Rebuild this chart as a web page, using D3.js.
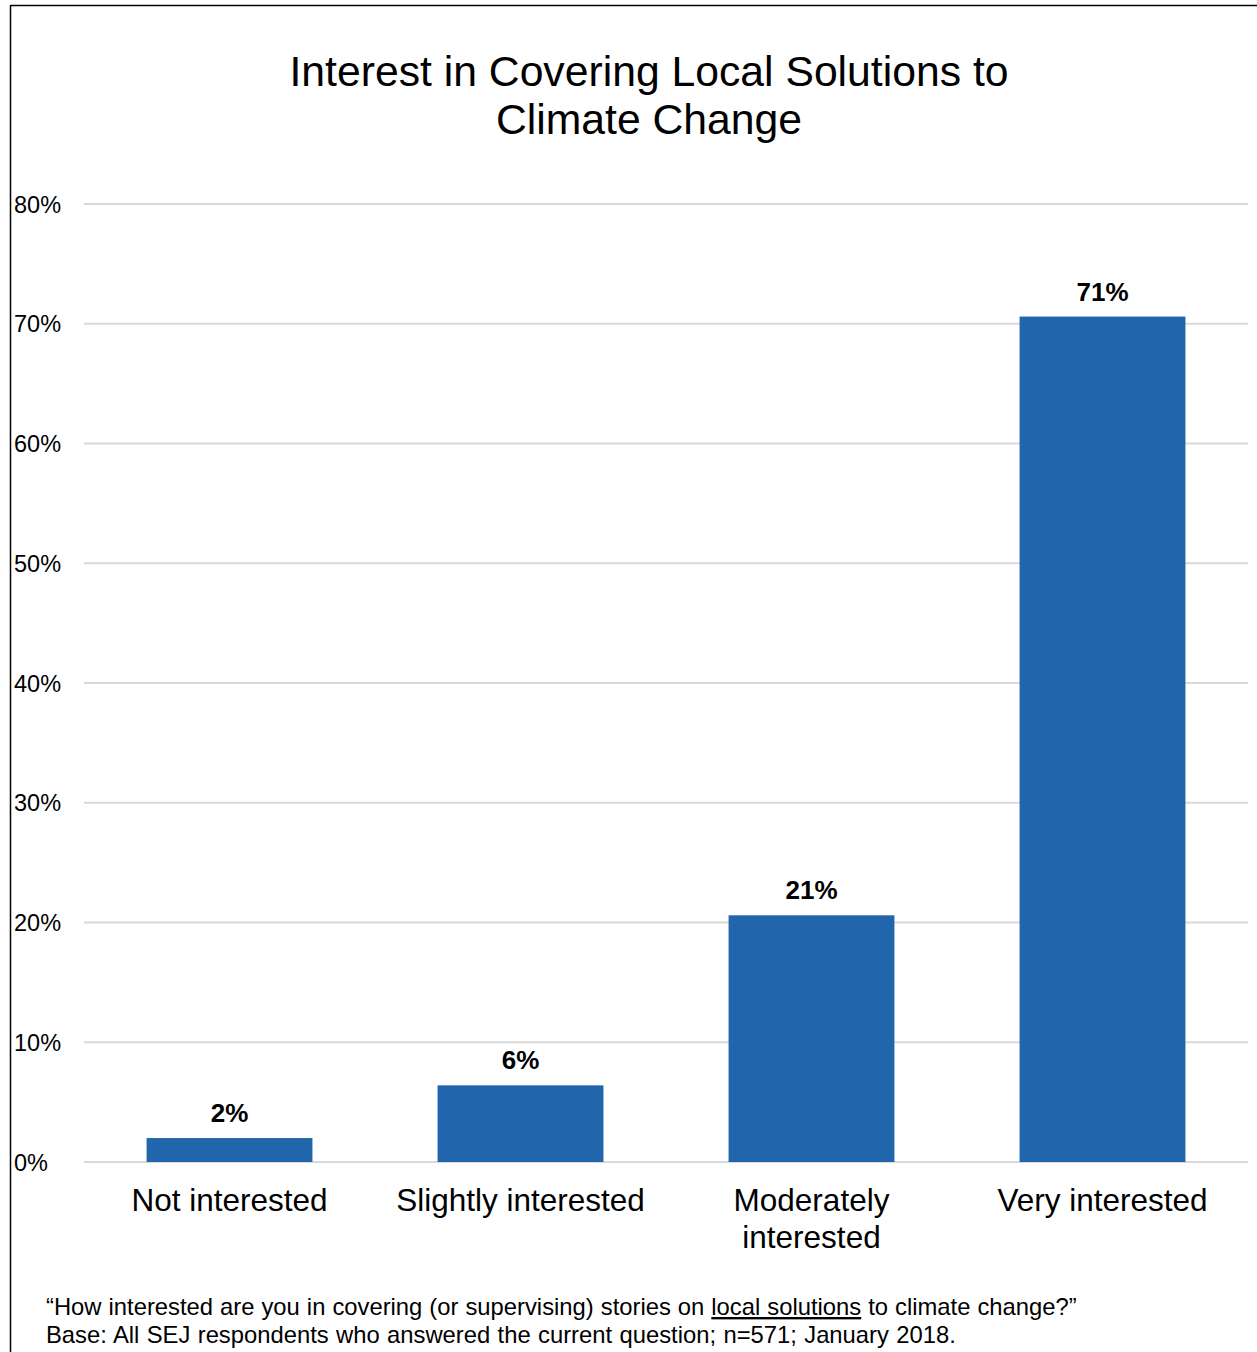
<!DOCTYPE html>
<html><head><meta charset="utf-8">
<script src="https://cdn.jsdelivr.net/npm/d3@7"></script>
<style>html,body{margin:0;padding:0;background:#fff;}svg{display:block;font-family:"Liberation Sans",Arial,sans-serif;}</style>
</head><body>
<script>
const categories = ["Not interested", "Slightly interested", "Moderately interested", "Very interested"];
const categoryLines = [["Not interested"], ["Slightly interested"], ["Moderately", "interested"], ["Very interested"]];
const values = [2.0, 6.4, 20.6, 70.6];
const valueLabels = ["2%", "6%", "21%", "71%"];
const yTicks = [0, 10, 20, 30, 40, 50, 60, 70, 80];
const titleLines = ["Interest in Covering Local Solutions to", "Climate Change"];

const W = 1257, H = 1352;
const svg = d3.select("body").append("svg").attr("width", W).attr("height", H);

// frame
svg.append("line").attr("x1", 10.5).attr("x2", W).attr("y1", 5.5).attr("y2", 5.5).attr("stroke", "#000").attr("stroke-width", 1.5);
svg.append("line").attr("x1", 10.5).attr("x2", 10.5).attr("y1", 5).attr("y2", H).attr("stroke", "#000").attr("stroke-width", 1.5);

const x = d3.scaleBand().domain(categories).range([84, 1248]).paddingInner(0.43).paddingOuter(0.215);
const y = d3.scaleLinear().domain([0, 80]).range([1162, 204]);

// title
svg.append("text").attr("text-anchor", "middle").attr("font-size", 42.7).attr("fill", "#000")
  .selectAll("tspan").data(titleLines).join("tspan")
  .attr("x", 649).attr("y", (d, i) => 86 + i * 48).text(d => d);

// gridlines
svg.append("g").selectAll("line").data(yTicks).join("line")
  .attr("x1", 84).attr("x2", 1248).attr("y1", d => y(d)).attr("y2", d => y(d))
  .attr("stroke", "#d9d9d9").attr("stroke-width", 2);

// y tick labels
svg.append("g").selectAll("text").data(yTicks).join("text")
  .attr("x", 14).attr("y", d => y(d) + 8.5).attr("font-size", 23.5).attr("fill", "#000")
  .text(d => d + "%");

// bars
svg.append("g").selectAll("rect").data(values).join("rect")
  .attr("x", (d, i) => x(categories[i])).attr("width", x.bandwidth())
  .attr("y", d => y(d)).attr("height", d => y(0) - y(d))
  .attr("fill", "#2166ac");

// value labels
svg.append("g").selectAll("text").data(values).join("text")
  .attr("x", (d, i) => x(categories[i]) + x.bandwidth() / 2).attr("y", d => y(d) - 16)
  .attr("text-anchor", "middle").attr("font-size", 26).attr("font-weight", "bold").attr("fill", "#000")
  .text((d, i) => valueLabels[i]);

// category labels
const cat = svg.append("g").selectAll("text").data(categoryLines).join("text")
  .attr("text-anchor", "middle").attr("font-size", 31.5).attr("fill", "#000");
cat.selectAll("tspan").data((d, i) => d.map(s => ({ s, i }))).join("tspan")
  .attr("x", d => x(categories[d.i]) + x.bandwidth() / 2)
  .attr("y", (d, j) => 1211 + j * 37).text(d => d.s);

// footer
const f1 = svg.append("text").attr("x", 46).attr("y", 1315).attr("font-size", 23.8).attr("word-spacing", 0.4).attr("fill", "#000");
f1.append("tspan").text("\u201cHow interested are you in covering (or supervising) stories on ");
f1.append("tspan").attr("text-decoration", "underline").text("local solutions");
f1.append("tspan").text(" to climate change?\u201d");
svg.append("text").attr("x", 46).attr("y", 1343).attr("font-size", 23.8).attr("word-spacing", 0.75).attr("fill", "#000")
  .text("Base: All SEJ respondents who answered the current question; n=571; January 2018.");
</script>
</body></html>
